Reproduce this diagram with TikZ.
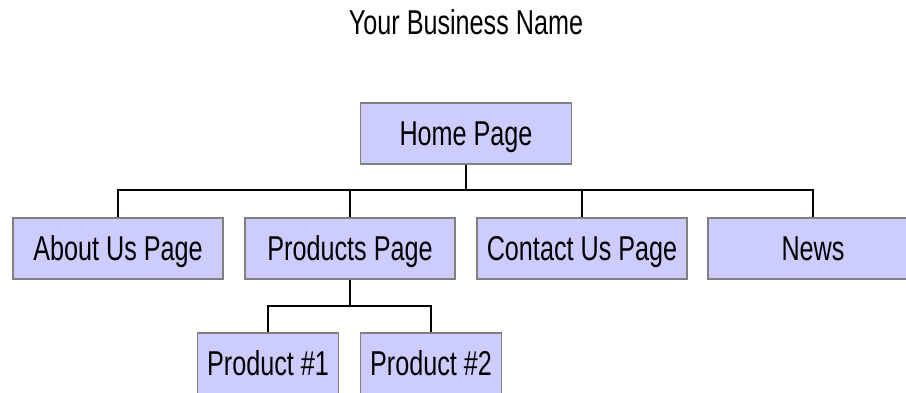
\documentclass[tikz,border=0pt]{standalone}
\usepackage{fontspec}
\setmainfont[FakeStretch=0.73]{Liberation Sans}
\definecolor{boxfill}{HTML}{CCCCFF}
\definecolor{boxline}{HTML}{808080}
\tikzset{
  label text/.style={inner sep=0pt, text height=24.7pt, text depth=0pt,
    font=\fontsize{34.5}{40}\selectfont},
  page/.style={label text, draw=boxline, line width=1.6pt, fill=boxfill,
    minimum width=210pt, minimum height=61pt},
  subpage/.style={page, minimum width=141pt},
  link/.style={draw=black, line width=1.5pt},
}
\begin{document}
\begin{tikzpicture}[x=1pt,y=-1pt]
  \clip (0,0) rectangle (906,392);
  \fill[white] (0,0) rectangle (906,392);

  \node[label text] (title) at (466,22) {Your Business Name};

  \node[page, minimum width=211pt] (home) at (466,133.5) {Home Page};
  \node[page] (about)    at (118,248.5) {About Us Page};
  \node[page] (products) at (350,248.5) {Products Page};
  \node[page] (contact)  at (582,248.5) {Contact Us Page};
  \node[page] (news)     at (813,248.5) {News};
  \node[subpage] (prod1) at (268,363.5) {Product \#1};
  \node[subpage] (prod2) at (431,363.5) {Product \#2};

  \coordinate (bus) at (466,190);
  \coordinate (subbus) at (350,306);

  % top level links
  \draw[link] (home.south) -- (home.south |- bus);
  \draw[link] (about.north) -- (about.north |- bus) -- (news.north |- bus) -- (news.north);
  \draw[link] (products.north) -- (products.north |- bus);
  \draw[link] (contact.north) -- (contact.north |- bus);

  % product links
  \draw[link] (products.south) -- (products.south |- subbus);
  \draw[link] (prod1.north) -- (prod1.north |- subbus) -- (prod2.north |- subbus) -- (prod2.north);
\end{tikzpicture}
\end{document}
